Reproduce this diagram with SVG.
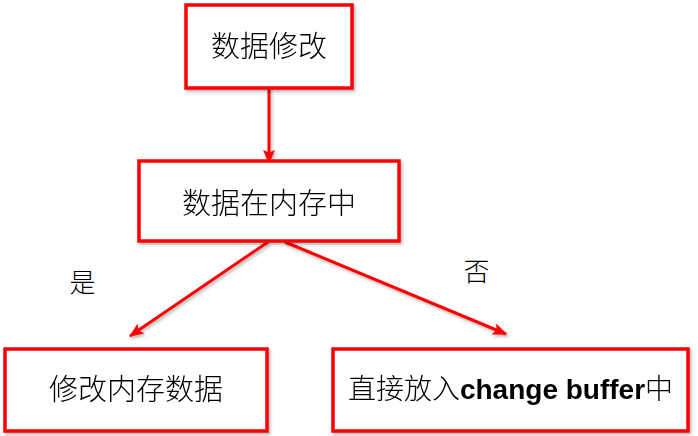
<svg xmlns="http://www.w3.org/2000/svg" width="698" height="436" viewBox="0 0 698 436">
  <defs>
    <filter id="shadow" x="-10%" y="-10%" width="120%" height="130%">
      <feDropShadow dx="1.5" dy="2" stdDeviation="1.5" flood-color="#000" flood-opacity="0.3"/>
    </filter>
    <marker id="arrow" viewBox="0 0 12 10" refX="11" refY="5" markerWidth="5" markerHeight="4" orient="auto" markerUnits="strokeWidth">
      <path d="M0,0 L12,5 L0,10 L2.5,5 Z" fill="#FF0000"/>
    </marker>
  </defs>
  <style>
    .box { fill: #FFFFFF; stroke: #FF0000; stroke-width: 3.5; }
    .label { font-family: "Noto Sans CJK SC", "Liberation Sans", sans-serif; font-weight: 300; fill: #000; text-anchor: middle; }
    .latin { font-family: "Liberation Sans", Arial, sans-serif; font-weight: bold; }
    .edge { stroke: #FF0000; stroke-width: 3; fill: none; marker-end: url(#arrow); }
  </style>
  <rect width="698" height="436" fill="#FFFFFF"/>

  <!-- connectors -->
  <g id="connectors" filter="url(#shadow)">
    <line class="edge" x1="269" y1="88" x2="269" y2="163"/>
    <line class="edge" x1="268" y1="242" x2="130" y2="336"/>
    <line class="edge" x1="285" y1="242" x2="506" y2="334"/>
  </g>

  <g id="edge-labels">
    <text class="label" x="82.5" y="292" font-size="26">是</text>
    <text class="label" x="476.5" y="281" font-size="26">否</text>
  </g>

  <g id="node-modify" filter="url(#shadow)">
    <rect class="box" x="186" y="5" width="166" height="83"/>
    <text class="label" x="269" y="57" font-size="29">数据修改</text>
  </g>

  <g id="node-in-memory" filter="url(#shadow)">
    <rect class="box" x="139" y="161" width="260" height="80"/>
    <text class="label" x="269" y="214" font-size="29">数据在内存中</text>
  </g>

  <g id="node-update-memory" filter="url(#shadow)">
    <rect class="box" x="5" y="349" width="262" height="82"/>
    <text class="label" x="136" y="400" font-size="29">修改内存数据</text>
  </g>

  <g id="node-change-buffer" filter="url(#shadow)">
    <rect class="box" x="333" y="349" width="355" height="82"/>
    <text class="label" x="510.5" y="399" font-size="28">直接放入<tspan class="latin">change buffer</tspan>中</text>
  </g>
</svg>
